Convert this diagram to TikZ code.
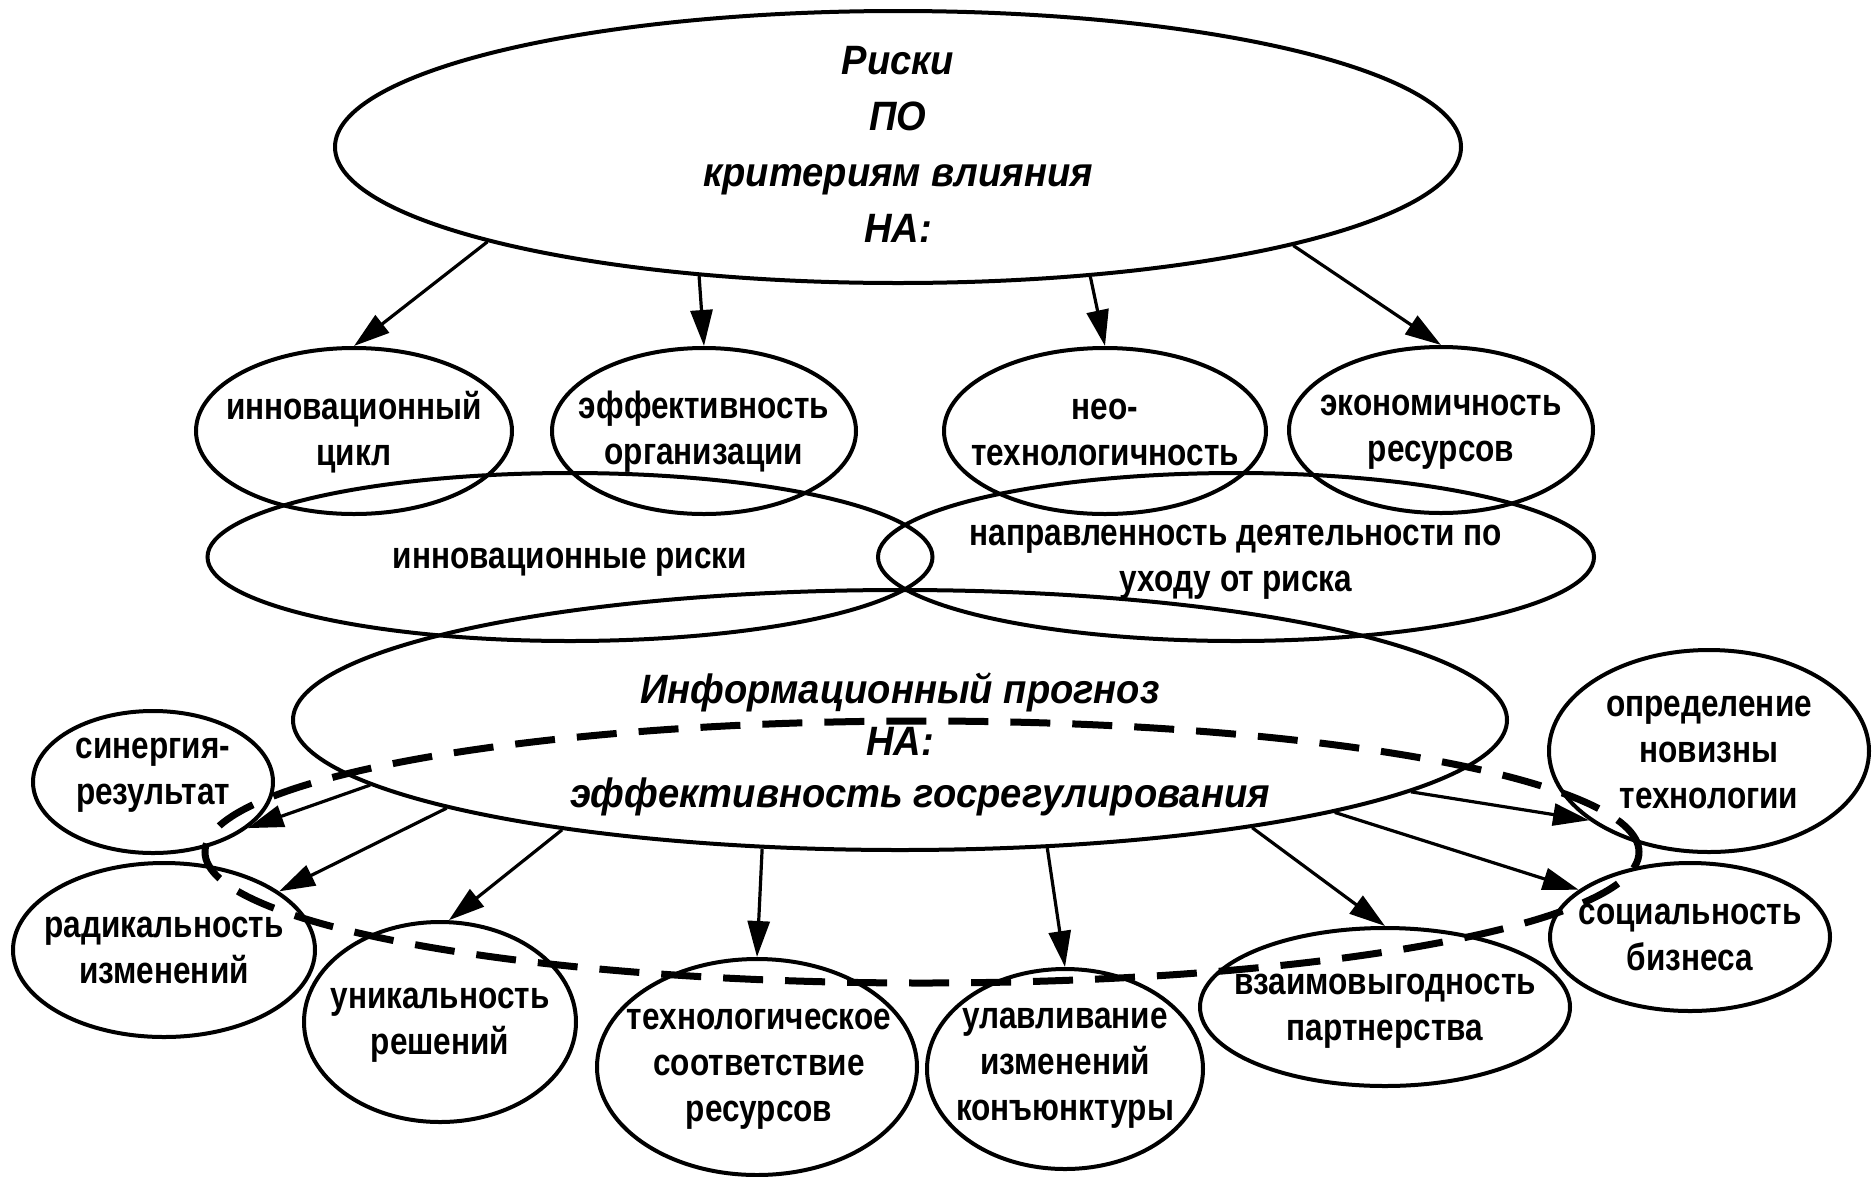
\documentclass[tikz,border=0pt]{standalone}
\usepackage{fontspec}
\newfontfamily\labfont{Liberation Sans}[FakeStretch=0.83]
\newfontfamily\hdfont{Liberation Sans}[FakeStretch=0.93]
\usetikzlibrary{shapes.geometric,arrows.meta}
\begin{document}
\begin{tikzpicture}[x=1pt,y=-1pt,
  oval/.style={draw, ellipse, line width=4pt, inner sep=0pt},
  lab/.style={align=center, inner sep=0pt, font=\labfont\bfseries\fontsize{38}{46}\selectfont},
  hd/.style={align=center, inner sep=0pt, font=\hdfont\bfseries\itshape\fontsize{41}{56}\selectfont},
  hdb/.style={align=center, inner sep=0pt, font=\hdfont\bfseries\itshape\fontsize{41}{52}\selectfont},
  arr/.style={line width=3.2pt, -{Triangle[length=36pt,width=22pt]}},
  dsh/.style={draw, ellipse, line width=7pt, dash pattern=on 40pt off 22pt, inner sep=0pt}
]
\fill[white] (0,0) rectangle (1872,1176);
\useasboundingbox (0,0) rectangle (1872,1176);

% top ellipse
\node[oval, minimum width=1126pt, minimum height=272pt] (top) at (898,147) {};
\node[hd] (top-t) at (898,144) {Риски\\ПО\\критериям влияния\\НА:};

% second row
\node[oval, minimum width=316pt, minimum height=166pt] (inn) at (354,431) {};
\node[lab] (inn-t) at (354,432) {инновационный\\цикл};
\node[oval, minimum width=304pt, minimum height=166pt] (eff) at (704,431) {};
\node[lab] (eff-t) at (704,432) {эффективность\\организации};
\node[oval, minimum width=322pt, minimum height=166pt] (neo) at (1105,431) {};
\node[lab] (neo-t) at (1105,432) {нео-\\технологичность};
\node[oval, minimum width=304pt, minimum height=166pt] (eco) at (1441,430) {};
\node[lab] (eco-t) at (1441,432) {экономичность\\ресурсов};

% third row
\node[oval, minimum width=725pt, minimum height=168pt] (ir) at (570,557) {};
\node[lab] (ir-t) at (570,562) {инновационные риски};
\node[oval, minimum width=716pt, minimum height=168pt] (dir) at (1236,557) {};
\node[lab] (dir-t) at (1236,562) {направленность деятельности по\\уходу от риска};

% big ellipse
\node[oval, minimum width=1214pt, minimum height=260pt] (big) at (900,720) {};
\node[hdb] (big-t) at (900,744) {Информационный прогноз\\НА:\\\hspace*{40pt}эффективность госрегулирования};

% bottom ring
\node[oval, minimum width=240pt, minimum height=142pt] (syn) at (153,782) {};
\node[lab] (syn-t) at (153,775) {синергия-\\результат};
\node[oval, minimum width=302pt, minimum height=174pt] (rad) at (164,950) {};
\node[lab] (rad-t) at (164,950) {радикальность\\изменений};
\node[oval, minimum width=272pt, minimum height=200pt] (uni) at (440,1022) {};
\node[lab] (uni-t) at (440,1025) {уникальность\\решений};
\node[oval, minimum width=320pt, minimum height=216pt] (tech) at (757,1067) {};
\node[lab] (tech-t) at (759,1069) {технологическое\\соответствие\\ресурсов};
\node[oval, minimum width=276pt, minimum height=200pt] (ula) at (1065,1069) {};
\node[lab] (ula-t) at (1065,1068) {улавливание\\изменений\\конъюнктуры};
\node[oval, minimum width=370pt, minimum height=158pt] (vzm) at (1385,1007) {};
\node[lab] (vzm-t) at (1385,1011) {взаимовыгодность\\партнерства};
\node[oval, minimum width=280pt, minimum height=148pt] (soc) at (1690,937) {};
\node[lab] (soc-t) at (1690,937) {социальность\\бизнеса};
\node[oval, minimum width=320pt, minimum height=202pt] (opr) at (1709,751) {};
\node[lab] (opr-t) at (1709,752) {определение\\новизны\\технологии};

% dashed ellipse
\node[dsh, minimum width=1434pt, minimum height=262pt] (ring) at (922,852) {};

% arrows from top
\draw[arr] (top.193.4) -- (inn.north);
\draw[arr] (top.213.3) -- (eff.north);
\draw[arr] (top.326.9) -- (neo.north);
\draw[arr] (top.346.6) -- (eco.north);

% arrows from big
\draw[arr] (big.187.4) -- (syn.334.5);
\draw[arr] (big.191.9) -- (rad.27.8);
\draw[arr] (big.198.7) -- (uni.85);
\draw[arr] (big.223.9) -- (tech.north);
\draw[arr] (big.319) -- (ula.north);
\draw[arr] (big.343) -- (vzm.north);
\draw[arr] (big.348.1) -- (soc.157.4);
\draw[arr] (big.352.6) -- (opr.210.1);
\end{tikzpicture}
\end{document}
